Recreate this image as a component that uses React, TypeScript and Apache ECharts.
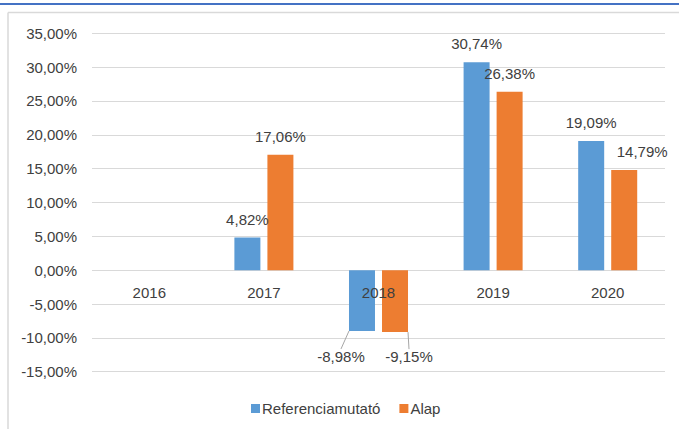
import React, { useEffect, useRef } from "react";
import * as echarts from "echarts";

const categories = ["2016", "2017", "2018", "2019", "2020"];
const referenciaValues: (number | null)[] = [null, 4.82, -8.98, 30.74, 19.09];
const alapValues: (number | null)[] = [null, 17.06, -9.15, 26.38, 14.79];
const seriesNames = ["Referenciamutató", "Alap"];

const FONT = "Liberation Sans";
const TEXT = "#404040";

const fmt = (v: number) => v.toFixed(2).replace(".", ",") + "%";

function buildData(vals: (number | null)[]) {
  return vals.map((v) => {
    if (v == null) return "-";
    if (v < 0) {
      return {
        value: v,
        label: { position: "bottom" },
        labelLine: { show: true, lineStyle: { color: "#a6a6a6", width: 1 } },
      };
    }
    return v;
  });
}

export default function App() {
  const ref = useRef<HTMLDivElement>(null);
  useEffect(() => {
    if (!ref.current) return;
    const chart = echarts.init(ref.current, null, { renderer: "svg" });
    const labelCommon = {
      show: true,
      position: "top",
      distance: 11,
      color: TEXT,
      fontFamily: FONT,
      fontSize: 15,
      formatter: (p: any) => fmt(p.value as number),
    };
    chart.setOption({
      animation: false,
      backgroundColor: "#ffffff",
      textStyle: { fontFamily: FONT },
      graphic: [
        {
          type: "line",
          shape: { x1: 0, y1: 4, x2: 679, y2: 4 },
          style: { stroke: "#4472C4", lineWidth: 2 },
          silent: true,
        },
        {
          type: "line",
          shape: { x1: 8, y1: 12.5, x2: 679, y2: 12.5 },
          style: { stroke: "#d9d9d9", lineWidth: 1.5 },
          silent: true,
        },
        {
          type: "line",
          shape: { x1: 8, y1: 12.5, x2: 8, y2: 429 },
          style: { stroke: "#d9d9d9", lineWidth: 1.5 },
          silent: true,
        },
      ],
      grid: { left: 92, right: 14, top: 33.3, bottom: 57.3, containLabel: false },
      legend: {
        data: seriesNames,
        left: 251,
        top: 401,
        padding: 0,
        itemWidth: 9,
        itemHeight: 9,
        itemGap: 19,
        icon: "rect",
        textStyle: { color: TEXT, fontFamily: FONT, fontSize: 15, padding: [0, 0, 0, -3] },
      },
      xAxis: {
        type: "category",
        data: categories,
        z: 10,
        offset: -101,
        axisLine: { show: false, onZero: false },
        axisTick: { show: false },
        axisLabel: { color: TEXT, fontFamily: FONT, fontSize: 15, margin: 14 },
        splitLine: { show: false },
      },
      yAxis: {
        type: "value",
        min: -15,
        max: 35,
        interval: 5,
        axisLine: { show: false },
        axisTick: { show: false },
        axisLabel: {
          color: TEXT,
          fontFamily: FONT,
          fontSize: 15,
          margin: 15,
          formatter: (v: number) => fmt(v),
        },
        splitLine: { show: true, lineStyle: { color: "#d9d9d9", width: 1.2 } },
      },
      series: [
        {
          name: seriesNames[0],
          type: "bar",
          data: buildData(referenciaValues),
          barWidth: 26,
          barGap: "27%",
          itemStyle: { color: "#5B9BD5" },
          label: labelCommon,
          labelLine: { show: false },
          labelLayout: (p: any) => (p.dataIndex === 2 ? { dx: -21, dy: 7 } : {}),
        },
        {
          name: seriesNames[1],
          type: "bar",
          data: buildData(alapValues),
          barWidth: 26,
          barGap: "27%",
          itemStyle: { color: "#ED7D31" },
          label: labelCommon,
          labelLine: { show: false },
          labelLayout: (p: any) =>
            p.dataIndex === 2 ? { dx: 14, dy: 6 } : p.dataIndex === 4 ? { dx: 18 } : {},
        },
      ],
    });
    return () => chart.dispose();
  }, []);
  return (
    <div
      ref={ref}
      style={{ position: "fixed", left: 0, top: 0, width: 679, height: 429 }}
    />
  );
}
